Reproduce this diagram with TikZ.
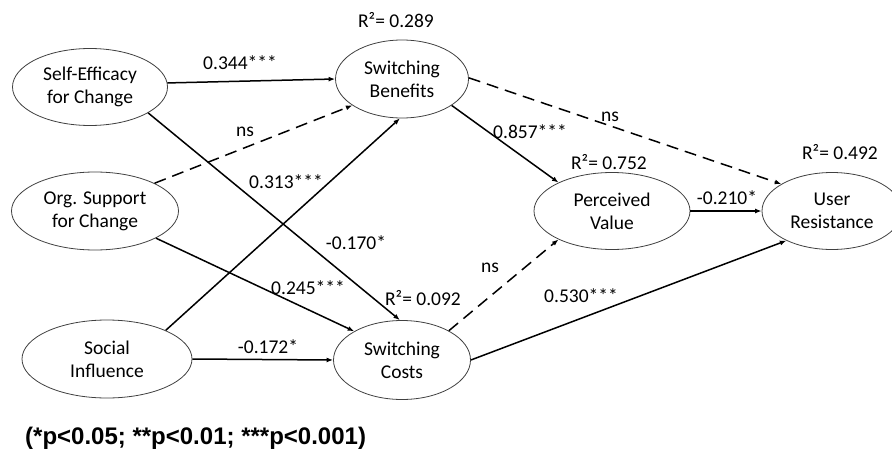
\documentclass[tikz,border=0pt]{standalone}
\usepackage{fontspec}
\setmainfont{Carlito}
\newfontfamily\notefont{Liberation Sans}
\usetikzlibrary{shapes.geometric,arrows.meta}
\begin{document}
\begin{tikzpicture}[x=1pt,y=-1pt,
  every node/.style={font=\fontsize{19.5}{23}\selectfont},
  construct/.style={ellipse,draw=black!75,line width=0.8pt,inner sep=0pt,align=center},
  lbl/.style={inner sep=0pt},
  path/.style={line width=1.5pt,-{Latex[length=6.5pt,width=5pt]}},
  nspath/.style={path,dash pattern=on 12pt off 7pt}
]
\useasboundingbox (0,0) rectangle (892,455);
\node[construct,minimum width=155pt,minimum height=77pt] (se) at (90,87) {Self-Efficacy\\for Change};
\node[construct,minimum width=167pt,minimum height=78pt] (os) at (95,211) {Org. Support\\for Change};
\node[construct,minimum width=170pt,minimum height=78pt] (si) at (107,359) {Social\\Influence};
\node[construct,minimum width=133pt,minimum height=78pt] (sb) at (402,79) {Switching\\Benefits};
\node[construct,minimum width=137pt,minimum height=79pt] (sc) at (402,360) {Switching\\Costs};
\node[construct,minimum width=156pt,minimum height=77pt] (pv) at (612,211) {Perceived\\Value};
\node[construct,minimum width=140pt,minimum height=77pt] (ur) at (832,211) {User\\Resistance};

\node[lbl] (r1) at (396,20) {R²= 0.289};
\node[lbl] (r2) at (609,162) {R²= 0.752};
\node[lbl] (r3) at (840,152) {R²= 0.492};
\node[lbl] (r4) at (423,298) {R²= 0.092};

\draw[path] (se.3) -- (sb.180);
\draw[nspath] (os.25) -- (sb.208);
\draw[path] (si.26) -- (sb.267);
\draw[path] (se.336) -- (sc.93);
\draw[path] (os.336) -- (sc.149);
\draw[path] (si.0) -- (sc.180);
\draw[path] (sb.332) -- (pv.152);
\draw[nspath] (sb.1) -- (ur.152);
\draw[nspath] (sc.32) -- (pv.208);
\draw[path] (sc.0) -- (ur.213);
\draw[path] (pv.0) -- (ur.180);

\node[lbl] (l1) at (240,63) {0.344***};
\node[lbl] (l2) at (245,132) {ns};
\node[lbl] (l3) at (286,182) {0.313***};
\node[lbl] (l4) at (356,243) {-0.170*};
\node[lbl] (l5) at (308,288) {0.245***};
\node[lbl] (l6) at (268,347) {-0.172*};
\node[lbl] (l7) at (530,132) {0.857***};
\node[lbl] (l8) at (610,117) {ns};
\node[lbl] (l9) at (727,198) {-0.210*};
\node[lbl] (l10) at (490,268) {ns};
\node[lbl] (l11) at (581,296) {0.530***};

\node[lbl,anchor=west,font=\notefont\bfseries\fontsize{24}{28}\selectfont] (note) at (25,438) {(*p<0.05; **p<0.01; ***p<0.001)};
\end{tikzpicture}
\end{document}
